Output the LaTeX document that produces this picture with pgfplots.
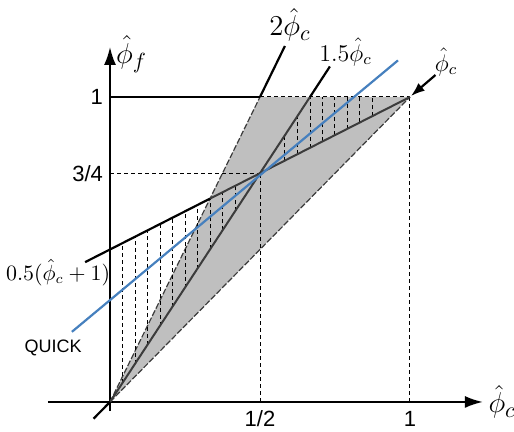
\documentclass[border=0pt]{standalone}
\usepackage{fontspec}
\usepackage{pgfplots}
\pgfplotsset{compat=1.18}
\usetikzlibrary{arrows.meta}
\newfontfamily\arial{Liberation Sans}
\definecolor{quickblue}{RGB}{70,128,190}
\definecolor{darkline}{RGB}{60,60,60}
\begin{document}
\begin{tikzpicture}
\begin{axis}[
  x=150pt, y=152.5pt,
  xmin=-0.207, xmax=1.243, ymin=-0.03, ymax=1.164,
  axis lines=middle,
  axis line style={line width=1pt, -{Latex[length=9pt,width=6pt]}},
  clip=false,
  major tick length=0pt,
  xtick={0.5,1}, xticklabels={1/2,1},
  ytick={0.75,1}, yticklabels={3/4,1},
  tick label style={font=\arial\fontsize{11}{13}\selectfont},
  xticklabel style={yshift=-1pt},
  unbounded coords=jump,
]
% shaded TVD region
\addplot[fill=gray!50, draw=none] coordinates {(0,0) (0.5,1) (1,1) (0,0)};
\addplot[darkline, line width=0.6pt, dash pattern=on 3pt off 1pt] coordinates {(0,0) (0.5,1)};
\addplot[black, line width=0.5pt, dash pattern=on 2pt off 1.5pt] coordinates {(0.5,1) (1,1)};
\addplot[darkline, line width=0.6pt, dash pattern=on 3pt off 1pt] coordinates {(0,0) (1,1)};
% hatching
\addplot[black, line width=0.5pt, dash pattern=on 2pt off 1.5pt] coordinates {
(0.04167,0.0625) (0.04167,0.52083) (0.04167,nan)
(0.08333,0.125) (0.08333,0.54167) (0.08333,nan)
(0.125,0.1875) (0.125,0.5625) (0.125,nan)
(0.16667,0.25) (0.16667,0.58333) (0.16667,nan)
(0.20833,0.3125) (0.20833,0.60417) (0.20833,nan)
(0.25,0.375) (0.25,0.625) (0.25,nan)
(0.29167,0.4375) (0.29167,0.64583) (0.29167,nan)
(0.33333,0.5) (0.33333,0.66667) (0.33333,nan)
(0.375,0.5625) (0.375,0.6875) (0.375,nan)
(0.41667,0.625) (0.41667,0.70833) (0.41667,nan)
(0.58333,0.79167) (0.58333,0.875) (0.58333,nan)
(0.625,0.8125) (0.625,0.9375) (0.625,nan)
(0.66667,0.83333) (0.66667,1) (0.66667,nan)
(0.70833,0.85417) (0.70833,1) (0.70833,nan)
(0.75,0.875) (0.75,1) (0.75,nan)
(0.79167,0.89583) (0.79167,1) (0.79167,nan)
(0.83333,0.91667) (0.83333,1) (0.83333,nan)
(0.875,0.9375) (0.875,1) (0.875,nan)
};
% guide lines
\addplot[black, line width=0.5pt, dash pattern=on 2pt off 1.5pt] coordinates {(0.5,0) (0.5,0.75)};
\addplot[black, line width=0.5pt, dash pattern=on 2pt off 1.5pt] coordinates {(0,0.75) (0.5,0.75)};
\addplot[black, line width=0.5pt, dash pattern=on 2pt off 1.5pt] coordinates {(1,0) (1,1)};
% main lines
\addplot[black, line width=1.1pt] coordinates {(0,1) (0.5,1)};
\addplot[black, line width=1.1pt] coordinates {(0.5,1) (0.583,1.167)};
\addplot[darkline, line width=1pt] coordinates {(0,0) (0.66667,1)};
\addplot[black, line width=1.1pt] coordinates {(0.66667,1) (0.733,1.1)};
\addplot[black, line width=1.1pt] coordinates {(-0.083,0.4585) (0.33333,0.66667)};
\addplot[darkline, line width=1pt] coordinates {(0.33333,0.66667) (1,1)};
\addplot[black, line width=1.1pt] coordinates {(-0.055,-0.055) (0,0)};
% QUICK
\addplot[quickblue, line width=1.1pt] coordinates {(-0.127,0.23) (0.96,1.12)};
% leader arrow
\addplot[black, line width=1.1pt, -{Latex[length=7pt,width=5pt]}] coordinates {(1.085,1.072) (1.003,1.003)};
% labels
\node at (axis cs:0.6,1.236) {\fontsize{15.5}{18}\selectfont $2\hat{\phi}_c$};
\node at (axis cs:0.785,1.148) {\fontsize{12}{14}\selectfont $1.5\hat{\phi}_c$};
\node at (axis cs:1.12,1.115) {\fontsize{12}{14}\selectfont $\hat{\phi}_c$};
\node at (axis cs:0.072,1.14) {\fontsize{15}{18}\selectfont $\hat{\phi}_f$};
\node at (axis cs:1.307,0.0) {\fontsize{15}{18}\selectfont $\hat{\phi}_c$};
\node at (axis cs:-0.173,0.424) {\fontsize{10.5}{12}\selectfont $0.5(\hat{\phi}_c+1)$};
\node at (axis cs:-0.19,0.177) {\arial\fontsize{9}{11}\selectfont QUICK};
\coordinate (bl) at (axis cs:-0.3667,-0.0984);
\coordinate (tr) at (axis cs:1.3467,1.318);
\end{axis}
\pgfresetboundingbox
\path[use as bounding box] (bl) rectangle (tr);
\end{tikzpicture}
\end{document}
